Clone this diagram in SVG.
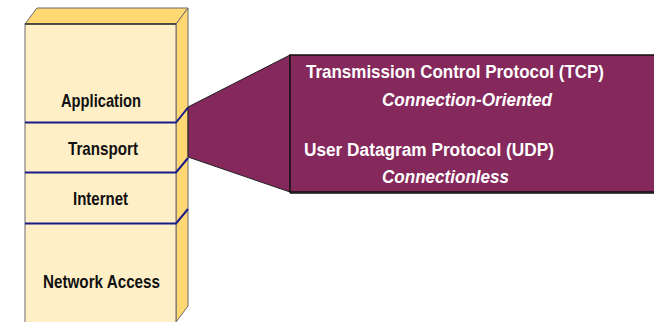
<svg xmlns="http://www.w3.org/2000/svg" width="654" height="322" viewBox="0 0 654 322">
<style>
.lbl{font-family:"Liberation Sans",Arial,sans-serif;font-weight:bold;font-size:18.5px;fill:#111;text-anchor:middle}
.wt{font-family:"Liberation Sans",Arial,sans-serif;font-weight:bold;font-size:18px;fill:#fff}
.it{font-style:italic}
.div{fill:none;stroke:#1b1b8a;stroke-width:2}
</style>
<rect width="654" height="322" fill="#fff"/>
<g id="stack">
  <polygon points="25,24 37,8 188,8 176,24" fill="#FFD873" stroke="#6b6b6b" stroke-width="1"/>
  <polygon points="176,24 188,8 188,306 176,322" fill="#FFD873" stroke="#6b6b6b" stroke-width="1"/>
  <rect x="25" y="24" width="151" height="300" fill="#FFEFC6" stroke="#6b6b6b" stroke-width="1"/>
  <line x1="25" y1="24" x2="176" y2="24" stroke="#333" stroke-width="1.5"/>
</g>
<g id="callout">
  <polygon points="188,107 290,55 290,192 188,157" fill="#85285B" stroke="#222" stroke-width="1"/>
  <rect x="290" y="55" width="370" height="137" fill="#85285B" stroke="#111" stroke-width="1.5"/>
  <line x1="290" y1="193" x2="654" y2="193" stroke="#111" stroke-width="1.5"/>
  <text class="wt" x="306" y="78" textLength="298" lengthAdjust="spacingAndGlyphs">Transmission Control Protocol (TCP)</text>
  <text class="wt it" x="382" y="105.5" textLength="170" lengthAdjust="spacingAndGlyphs">Connection-Oriented</text>
  <text class="wt" x="304" y="155.5" textLength="250" lengthAdjust="spacingAndGlyphs">User Datagram Protocol (UDP)</text>
  <text class="wt it" x="382" y="182.5" textLength="127" lengthAdjust="spacingAndGlyphs">Connectionless</text>
</g>
<g id="connectors">
  <polyline class="div" points="25,122.5 176,122.5 188,107.5"/>
  <polyline class="div" points="25,172.5 176,172.5 188,158"/>
  <polyline class="div" points="25,223.5 176,223.5 188,209"/>
</g>
<g id="application"><text class="lbl" x="101" y="106.5" textLength="80" lengthAdjust="spacingAndGlyphs">Application</text></g>
<g id="transport"><text class="lbl" x="103" y="154.5" textLength="70" lengthAdjust="spacingAndGlyphs">Transport</text></g>
<g id="internet"><text class="lbl" x="100.5" y="204.5" textLength="55" lengthAdjust="spacingAndGlyphs">Internet</text></g>
<g id="network-access"><text class="lbl" x="101.5" y="287.5" textLength="117" lengthAdjust="spacingAndGlyphs">Network Access</text></g>
</svg>
